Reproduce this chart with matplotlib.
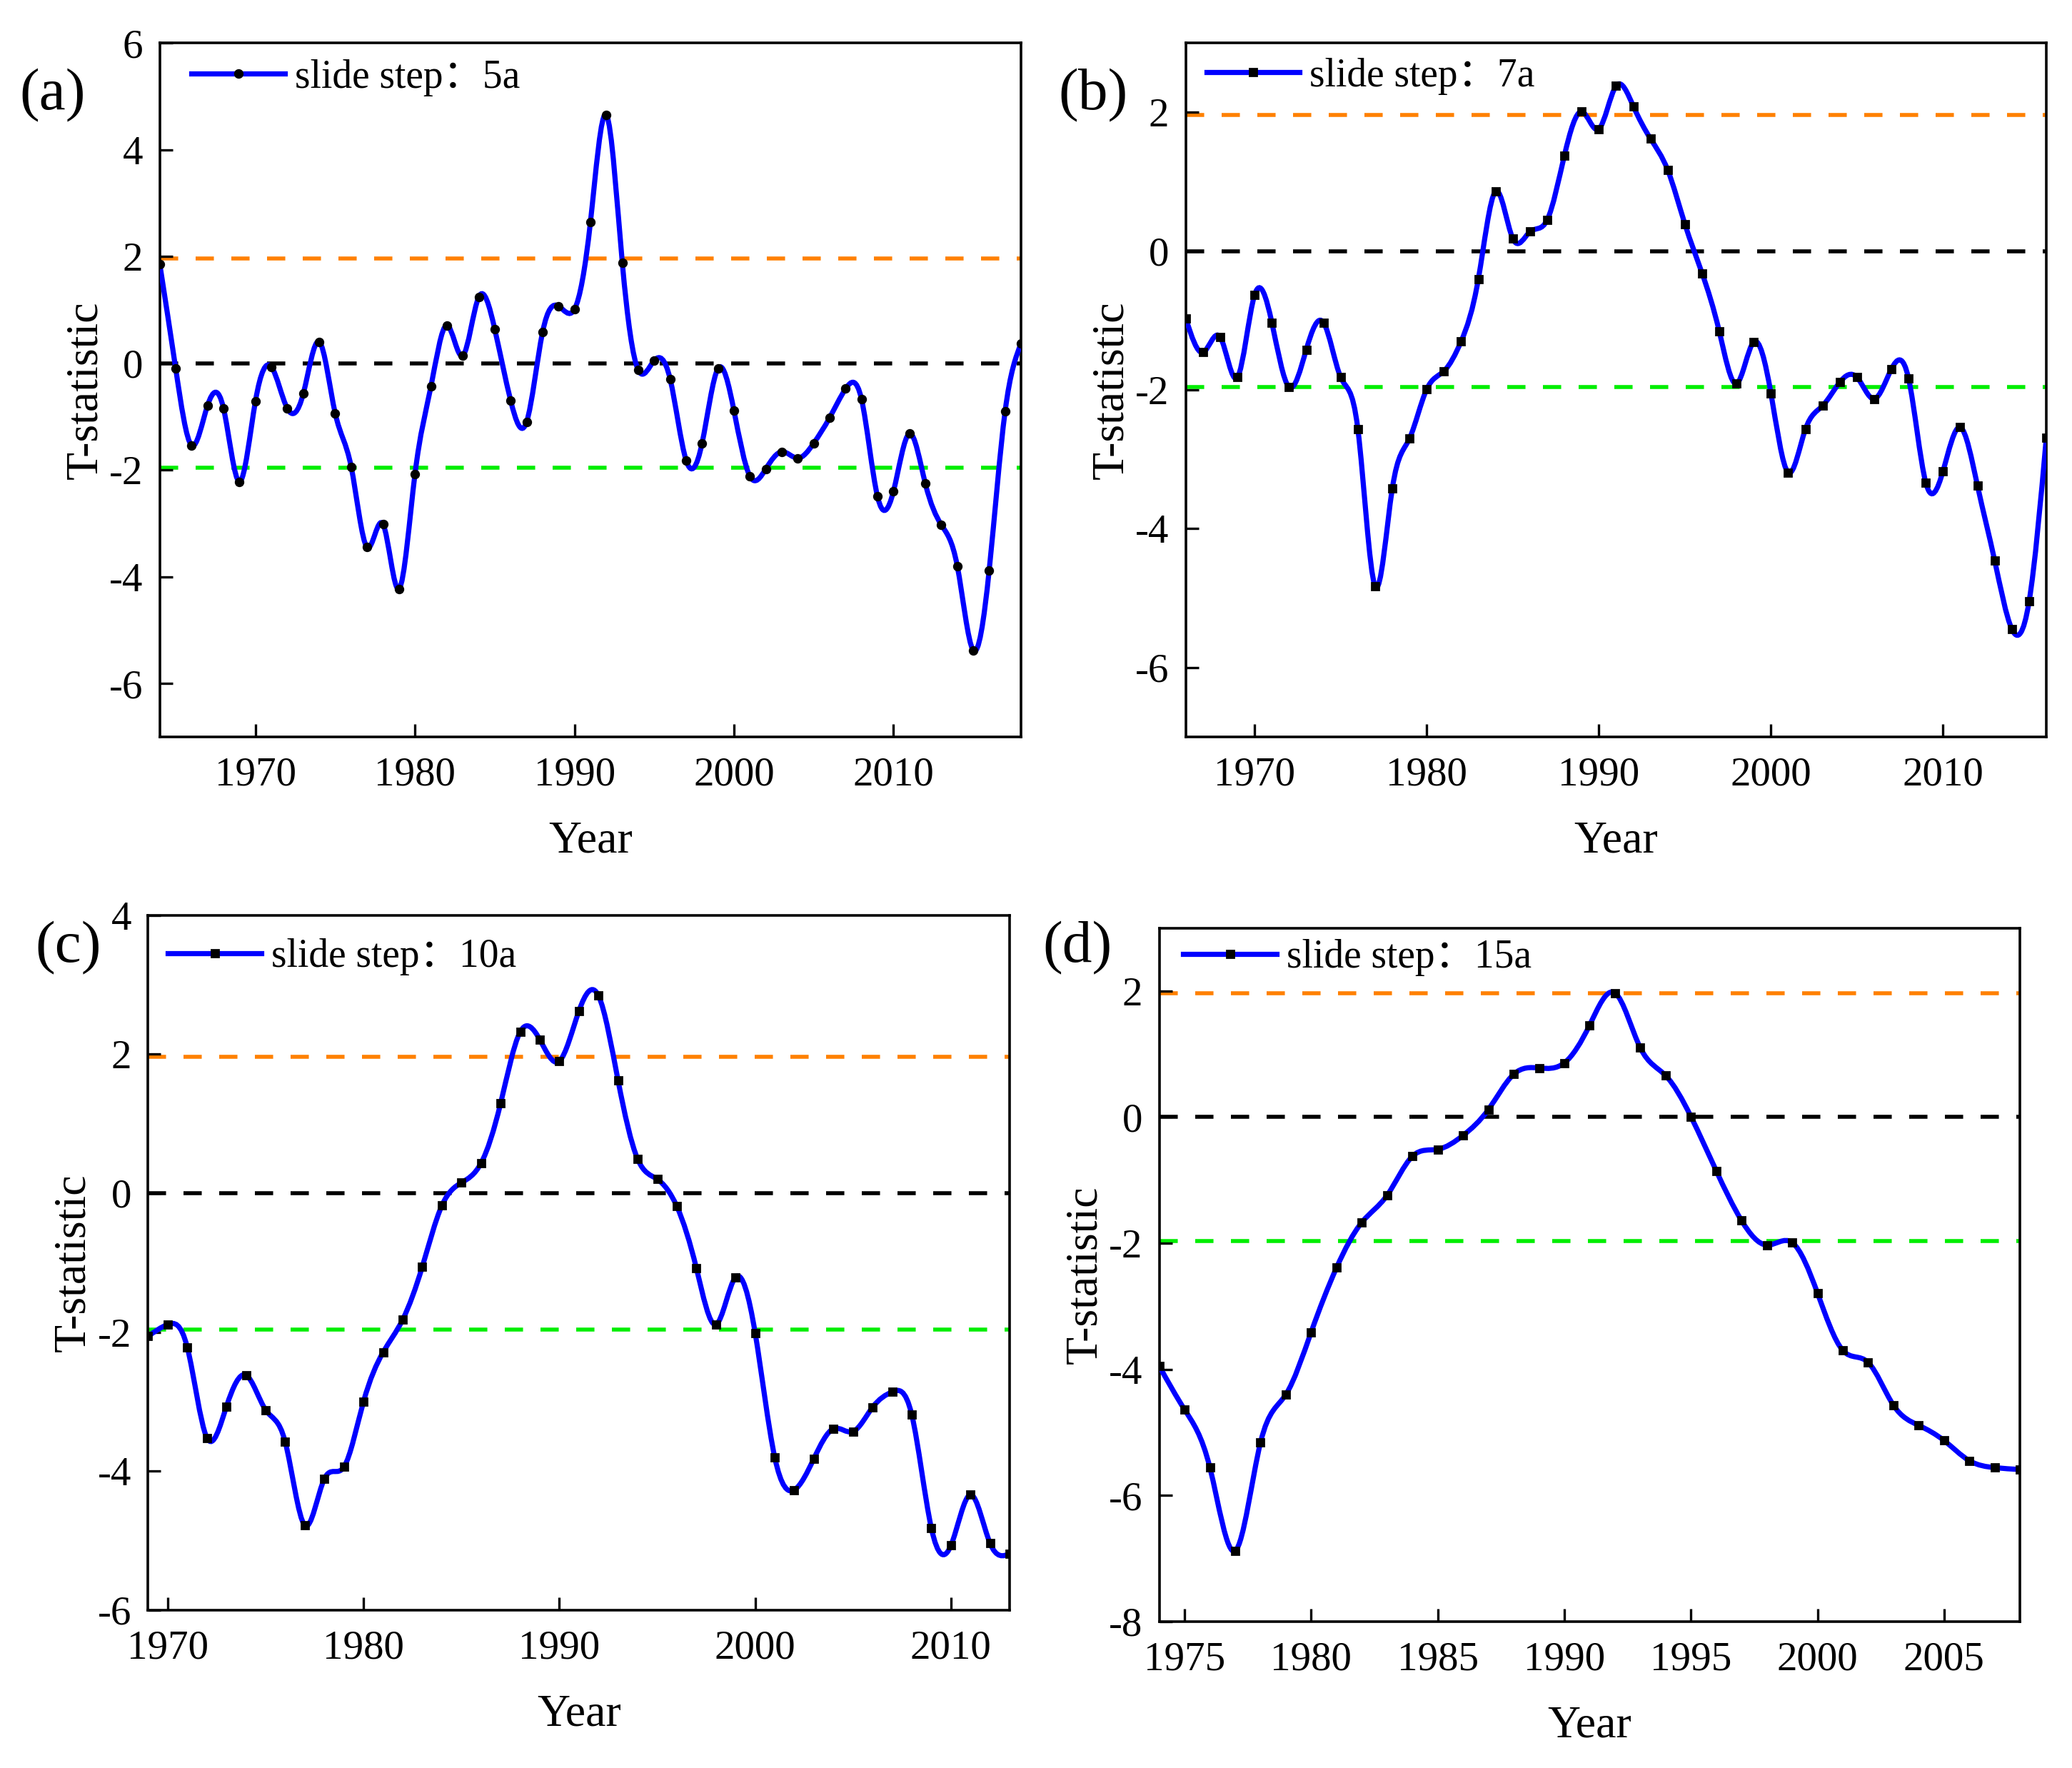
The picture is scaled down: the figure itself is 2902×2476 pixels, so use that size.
import numpy as np
import matplotlib
matplotlib.use("Agg")
import matplotlib.pyplot as plt
from matplotlib.path import Path
from matplotlib.patches import PathPatch
from matplotlib.lines import Line2D

plt.rcParams['font.family'] = ['Liberation Serif', 'Noto Sans CJK SC']
plt.rcParams['axes.unicode_minus'] = False

# --- data (T-statistic per year) ---
years_a = list(range(1964, 2019))
tstat_a = [1.86, -0.10, -1.54, -0.79, -0.85, -2.22, -0.71, -0.07, -0.85, -0.57,
           0.40, -0.94, -1.94, -3.45, -3.02, -4.23, -2.08, -0.44, 0.71, 0.14,
           1.24, 0.64, -0.70, -1.10, 0.58, 1.07, 1.01, 2.64, 4.65, 1.88,
           -0.13, 0.05, -0.30, -1.82, -1.50, -0.10, -0.89, -2.12, -1.98, -1.66,
           -1.78, -1.50, -1.02, -0.48, -0.68, -2.50, -2.40, -1.32, -2.26, -3.03,
           -3.80, -5.38, -3.88, -0.90, 0.37]

years_b = list(range(1966, 2017))
tstat_b = [-0.97, -1.46, -1.24, -1.82, -0.63, -1.03, -1.96, -1.42, -1.03, -1.82,
           -2.57, -4.83, -3.42, -2.70, -1.99, -1.73, -1.30, -0.40, 0.86, 0.18,
           0.28, 0.45, 1.38, 2.01, 1.76, 2.38, 2.09, 1.62, 1.17, 0.39,
           -0.32, -1.16, -1.91, -1.31, -2.05, -3.19, -2.57, -2.23, -1.89, -1.82,
           -2.13, -1.70, -1.84, -3.34, -3.17, -2.54, -3.38, -4.46, -5.45, -5.05,
           -2.69]

years_c = list(range(1969, 2014))
tstat_c = [-2.06, -1.89, -2.22, -3.52, -3.07, -2.62, -3.12, -3.58, -4.78, -4.11,
           -3.94, -3.00, -2.29, -1.82, -1.06, -0.18, 0.15, 0.43, 1.29, 2.32,
           2.21, 1.90, 2.62, 2.84, 1.62, 0.49, 0.20, -0.19, -1.08, -1.89,
           -1.21, -2.01, -3.80, -4.27, -3.82, -3.39, -3.43, -3.08, -2.86, -3.19,
           -4.82, -5.07, -4.34, -5.04, -5.19]

years_d = list(range(1974, 2009))
tstat_d = [-3.95, -4.64, -5.56, -6.88, -5.16, -4.40, -3.41, -2.39, -1.67, -1.24,
           -0.62, -0.51, -0.29, 0.12, 0.68, 0.78, 0.86, 1.46, 1.97, 1.10,
           0.66, 0.01, -0.85, -1.64, -2.03, -1.99, -2.79, -3.70, -3.89, -4.57,
           -4.89, -5.13, -5.45, -5.56, -5.59]

steps = ["5a", "7a", "10a", "15a"]
panel_tags = ["(a)", "(b)", "(c)", "(d)"]
crit = 1.96

BLUE = "#0000FF"
ORANGE = "#FF8000"
GREEN = "#00EE00"


def spline_path(x, y):
    # natural cubic spline drawn as bezier segments (Origin-style spline line)
    x = np.asarray(x, float)
    y = np.asarray(y, float)
    n = len(x)
    h = np.diff(x)
    A = np.zeros((n, n))
    r = np.zeros(n)
    A[0, 0] = A[-1, -1] = 1.0
    for i in range(1, n - 1):
        A[i, i - 1] = h[i - 1]
        A[i, i] = 2 * (h[i - 1] + h[i])
        A[i, i + 1] = h[i]
        r[i] = 6 * ((y[i + 1] - y[i]) / h[i] - (y[i] - y[i - 1]) / h[i - 1])
    M = np.linalg.solve(A, r)
    m = np.zeros(n)
    for i in range(n - 1):
        m[i] = (y[i + 1] - y[i]) / h[i] - h[i] * (2 * M[i] + M[i + 1]) / 6
    m[-1] = (y[-1] - y[-2]) / h[-1] + h[-1] * (M[-2] + 2 * M[-1]) / 6
    verts = [(x[0], y[0])]
    codes = [Path.MOVETO]
    for i in range(n - 1):
        verts += [(x[i] + h[i] / 3, y[i] + m[i] * h[i] / 3),
                  (x[i + 1] - h[i] / 3, y[i + 1] - m[i + 1] * h[i] / 3),
                  (x[i + 1], y[i + 1])]
        codes += [Path.CURVE4] * 3
    return Path(verts, codes)


fig = plt.figure(figsize=(14.51, 12.38), dpi=200)

rects = [[0.0771, 0.5833, 0.4157, 0.3924],
         [0.5723, 0.5833, 0.4153, 0.3924],
         [0.0715, 0.0893, 0.4158, 0.3931],
         [0.5595, 0.0829, 0.4154, 0.3922]]
xlims = [(1964, 2018), (1966, 2016), (1969, 2013), (1974, 2008)]
ylims = [(-7, 6), (-7, 3), (-6, 4), (-8, 3)]
xticks = [range(1970, 2011, 10), range(1970, 2011, 10),
          range(1970, 2011, 10), range(1975, 2006, 5)]
yticks = [range(-6, 7, 2), range(-6, 3, 2), range(-6, 5, 2), range(-8, 3, 2)]
markers = ["o", "s", "s", "s"]
leg_pos = [(0.037, 0.950), (0.024, 0.952), (0.023, 0.940), (0.028, 0.957)]
tag_pos = [(0.0255, 0.946), (0.5276, 0.946), (0.0331, 0.464), (0.520, 0.464)]

series = [(years_a, tstat_a), (years_b, tstat_b), (years_c, tstat_c), (years_d, tstat_d)]

for k, (yrs, vals) in enumerate(series):
    ax = fig.add_axes(rects[k])
    ax.set_xlim(*xlims[k])
    ax.set_ylim(*ylims[k])

    dash = (0, (4.6, 4.4))
    ax.axhline(crit, color=ORANGE, lw=2.0, ls=dash, zorder=1)
    ax.axhline(0, color="black", lw=2.0, ls=dash, zorder=1)
    ax.axhline(-crit, color=GREEN, lw=2.0, ls=dash, zorder=1)

    ax.add_patch(PathPatch(spline_path(yrs, vals), fill=False,
                           edgecolor=BLUE, lw=2.6, zorder=3))
    ax.plot(yrs, vals, ls="none", marker=markers[k], ms=3.8,
            mfc="black", mec="black", zorder=4)

    handle = Line2D([], [], color=BLUE, lw=2.6, marker=markers[k], ms=3.8,
                    mfc="black", mec="black")
    ax.legend([handle], ["slide step：" + steps[k]], loc="center left",
              bbox_to_anchor=leg_pos[k], frameon=False, fontsize=20,
              borderpad=0, borderaxespad=0, handlelength=2.35,
              handletextpad=0.25)

    ax.set_xticks(list(xticks[k]))
    ax.set_yticks(list(yticks[k]))
    ax.tick_params(direction="in", length=6.5, width=1.2, labelsize=20.5,
                   top=False, right=False)
    ax.tick_params(axis="x", pad=10)
    ax.tick_params(axis="y", pad=8.5)
    for sp in ax.spines.values():
        sp.set_linewidth(1.3)

    ax.set_xlabel("Year", fontsize=23)
    ax.set_ylabel("T-statistic", fontsize=23)
    ax.xaxis.set_label_coords(0.5, -0.121)
    ax.yaxis.set_label_coords(-0.062, 0.5)

    fig.text(tag_pos[k][0], tag_pos[k][1], panel_tags[k], fontsize=30,
             ha="center", va="center")

fig.savefig("out.png", dpi=200)
